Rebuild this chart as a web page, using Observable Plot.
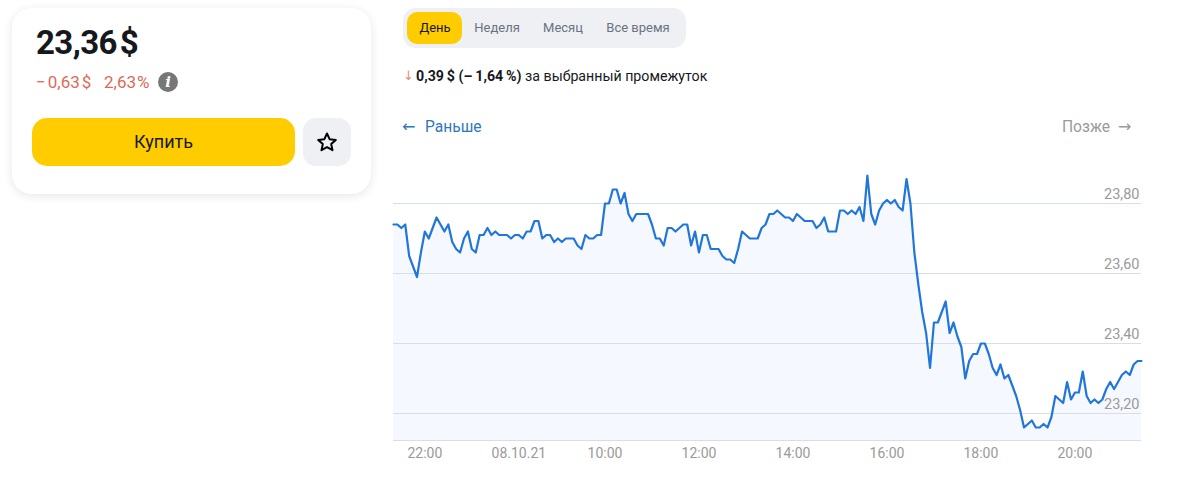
<!DOCTYPE html>
<html lang="ru">
<head>
<meta charset="utf-8">
<script src="https://cdn.jsdelivr.net/npm/d3@7"></script>
<script src="https://cdn.jsdelivr.net/npm/@observablehq/plot@0.6"></script>
<style>
html,body{margin:0;padding:0;background:#fff;width:1190px;height:487px;overflow:hidden;font-family:Roboto,"Noto Sans",sans-serif;color:#16181d}
#chart{position:absolute;left:0;top:0}
.a{position:absolute;white-space:nowrap;line-height:1}
.card{left:12px;top:8px;width:359px;height:186px;border-radius:20px;background:#fff;box-shadow:0 2px 10px rgba(30,40,70,.11)}
.price{left:36px;top:26px;font-size:33px;font-weight:700;letter-spacing:-.6px}
.chg{top:73.5px;font-size:17px;color:#dc6a58}
.info{left:158px;top:72px;width:20px;height:20px;border-radius:50%;background:#777;color:#fff;text-align:center;font:italic 700 15px/20px "DejaVu Serif",serif}
.buy{left:32px;top:118px;width:263px;height:48px;border-radius:15px;background:#fc0;text-align:center;font-size:18px;line-height:48px}
.fav{left:303px;top:118px;width:48px;height:48px;border-radius:13px;background:#eef0f4}
.tabs{left:403px;top:8px;width:283px;height:40px;border-radius:13px;background:#eef0f4}
.sel{left:407px;top:12px;width:55px;height:32px;border-radius:10px;background:#fc0}
.tab{top:21px;font-size:13px;color:#6b7280;transform:translateX(-50%)}
.delta{left:416px;top:69px;font-size:14.2px}
.nav{top:120px;font-size:15.6px}
.arr{font-family:"DejaVu Sans",sans-serif}
</style>
</head>
<body>
<div id="chart"></div>
<div class="a card"></div>
<div class="a price">23,36<span style="margin-left:3px">$</span></div>
<div class="a chg" style="left:36px">−<span style="margin-left:2px">0,63</span><span style="margin-left:2px">$</span></div>
<div class="a chg" style="left:104px">2,63<span style="margin-left:1px">%</span></div>
<div class="a info">i</div>
<div class="a buy">Купить</div>
<div class="a fav"><svg width="48" height="48" viewBox="0 0 48 48"><polygon points="24,15.5 26.6,21.2 32.8,21.9 28.2,26.1 29.5,32.2 24,29.1 18.5,32.2 19.8,26.1 15.2,21.9 21.4,21.2" fill="none" stroke="#000" stroke-width="2" stroke-linejoin="round"/></svg></div>
<div class="a tabs"></div>
<div class="a sel"></div>
<div class="a tab" style="left:435px;color:#16181d">День</div>
<div class="a tab" style="left:497px">Неделя</div>
<div class="a tab" style="left:563px">Месяц</div>
<div class="a tab" style="left:638px">Все время</div>
<div class="a arr" style="left:403px;top:69px;font-size:13px;color:#e58a80">↓</div>
<div class="a delta"><b>0,39&#8201;$ (–&#8201;1,64&#8201;%)</b> за выбранный промежуток</div>
<div class="a arr nav" style="left:402px;top:119px;font-size:16px;color:#2f77bd">←</div>
<div class="a nav" style="left:425px;color:#2f77bd">Раньше</div>
<div class="a nav" style="left:1062px;color:#9a9a9a">Позже</div>
<div class="a arr nav" style="left:1118px;top:119px;font-size:16px;color:#9a9a9a">→</div>
<script>
const prices = [
  23.74,23.74,23.73,23.74,23.65,23.62,23.59,23.66,23.72,23.70,
  23.73,23.76,23.74,23.72,23.74,23.69,23.67,23.66,23.70,23.72,
  23.67,23.66,23.71,23.71,23.73,23.71,23.72,23.71,23.71,23.71,
  23.70,23.71,23.71,23.70,23.72,23.72,23.75,23.75,23.70,23.71,
  23.71,23.69,23.70,23.69,23.70,23.70,23.70,23.68,23.67,23.71,
  23.70,23.70,23.71,23.71,23.80,23.80,23.84,23.84,23.80,23.83,
  23.77,23.75,23.77,23.77,23.77,23.77,23.74,23.70,23.70,23.68,
  23.73,23.73,23.72,23.73,23.74,23.74,23.68,23.72,23.66,23.71,
  23.71,23.67,23.67,23.67,23.65,23.64,23.64,23.63,23.67,23.72,
  23.71,23.70,23.70,23.70,23.73,23.74,23.77,23.77,23.78,23.77,
  23.76,23.76,23.75,23.77,23.76,23.75,23.75,23.75,23.73,23.74,
  23.76,23.72,23.72,23.72,23.78,23.78,23.77,23.78,23.77,23.79,
  23.75,23.88,23.77,23.74,23.78,23.80,23.81,23.80,23.81,23.79,
  23.78,23.87,23.80,23.66,23.57,23.49,23.43,23.33,23.46,23.46,
  23.49,23.52,23.43,23.46,23.42,23.39,23.30,23.35,23.37,23.37,
  23.40,23.40,23.37,23.33,23.31,23.34,23.30,23.31,23.28,23.25,
  23.21,23.16,23.17,23.18,23.16,23.16,23.17,23.16,23.19,23.25,
  23.24,23.23,23.29,23.24,23.26,23.26,23.32,23.25,23.23,23.24,
  23.23,23.24,23.27,23.29,23.27,23.29,23.31,23.32,23.31,23.34,
  23.35,23.35
];
const xTickIndex = [8,32,54,78,102,126,150,174];
const xTickLabels = ["22:00","08.10.21","10:00","12:00","14:00","16:00","18:00","20:00"];
const yTicks = [23.2,23.4,23.6,23.8];
const yFloor = 23.12286, yCeil = 23.92286;

const plot = Plot.plot({
  width: 1190, height: 487,
  marginLeft: 393, marginRight: 49, marginTop: 160, marginBottom: 47,
  style: {background: "transparent", fontFamily: "Roboto, 'Noto Sans', sans-serif"},
  x: {domain: [0, prices.length - 1]},
  y: {domain: [yFloor, yCeil]},
  marks: [
    Plot.areaY(prices, {x: (d, i) => i, y1: yFloor, y2: d => d, fill: "#f5f8fe"}),
    Plot.gridY(yTicks, {stroke: "#d6dee9", strokeOpacity: 1, strokeWidth: 1}),
    Plot.ruleY([yFloor], {stroke: "#d6dee9", strokeWidth: 1}),
    Plot.lineY(prices, {x: (d, i) => i, y: d => d, stroke: "#2176d9", strokeWidth: 2.2, strokeLinejoin: "round"}),
    Plot.axisY({anchor: "right", ticks: yTicks, tickSize: 0, label: null, textAnchor: "end", dx: -2, dy: -9,
      tickPadding: 0, tickFormat: d => d.toFixed(2).replace(".", ","), fontSize: 14.5, color: "#9a9a9a"}),
    Plot.axisX({ticks: xTickIndex, tickSize: 0, label: null, tickPadding: 8,
      tickFormat: d => xTickLabels[xTickIndex.indexOf(d)], fontSize: 14, color: "#9a9a9a"})
  ]
});
document.getElementById("chart").appendChild(plot);
</script>
</body>
</html>
